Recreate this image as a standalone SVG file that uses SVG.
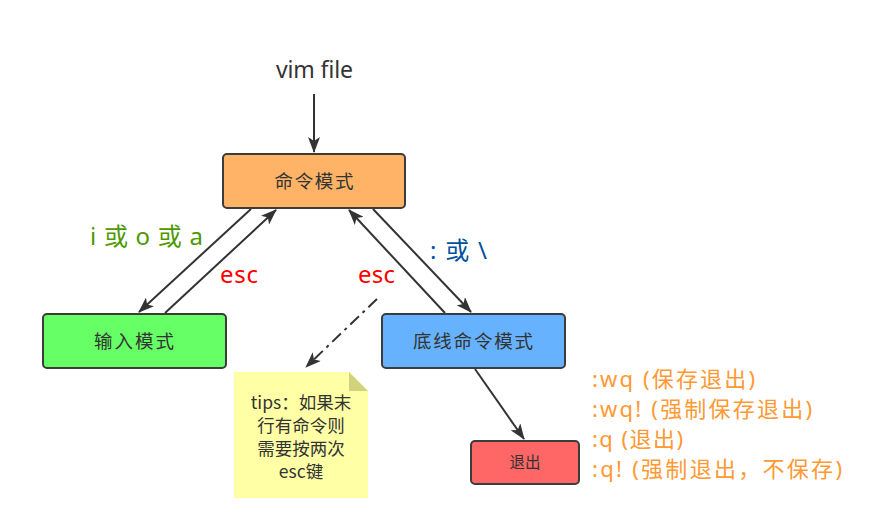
<svg xmlns="http://www.w3.org/2000/svg" width="892" height="520" viewBox="0 0 892 520">
<style>
.box{stroke:#3c3c3c;stroke-width:2}
.bt{font-family:"Noto Sans CJK SC","Noto Sans",sans-serif;font-size:18.5px;fill:#333;text-anchor:middle}
.lbl{font-family:"Noto Sans","Noto Sans CJK SC",sans-serif;font-size:24px}
.ol{font-family:"Noto Sans","Noto Sans CJK SC",sans-serif;font-size:22px;fill:#ff9933}
.con{stroke:#333;stroke-width:2;fill:none}
.tip{font-family:"Noto Sans CJK SC","Noto Sans",sans-serif;font-size:17.5px;fill:#333;text-anchor:middle}
</style>
<defs>
<marker id="arr" viewBox="0 0 16 12" refX="15" refY="6" markerWidth="16" markerHeight="12" markerUnits="userSpaceOnUse" orient="auto">
<path d="M0,0 L16,6 L0,12 L4,6 Z" fill="#333"/>
</marker>
</defs>
<rect width="892" height="520" fill="#fff"/>
<g id="connectors">
<line class="con" x1="314" y1="94" x2="314" y2="152" marker-end="url(#arr)"/>
<line class="con" x1="251" y1="209" x2="139" y2="312" marker-end="url(#arr)"/>
<line class="con" x1="165" y1="313" x2="276" y2="210" marker-end="url(#arr)"/>
<line class="con" x1="373" y1="209" x2="471" y2="312" marker-end="url(#arr)"/>
<line class="con" x1="445" y1="313" x2="349" y2="210" marker-end="url(#arr)"/>
<line class="con" x1="475" y1="369" x2="524" y2="439" marker-end="url(#arr)"/>
<line class="con" x1="377" y1="299" x2="306" y2="367" stroke-dasharray="12,5,3,5" marker-end="url(#arr)"/>
</g>
<g id="vimfile"><text x="276" y="78" class="lbl" style="font-size:23px" fill="#333" textLength="77">vim file</text></g>
<g id="cmd"><rect class="box" x="223" y="154" width="182" height="54" rx="4" fill="#ffb366"/><text class="bt" x="314" y="188" textLength="79">命令模式</text></g>
<g id="insert"><rect class="box" x="43" y="314" width="183" height="54" rx="4" fill="#66ff66"/><text class="bt" x="134" y="348" textLength="80">输入模式</text></g>
<g id="lastline"><rect class="box" x="382" y="314" width="183" height="54" rx="4" fill="#66b2ff"/><text class="bt" x="473" y="348" textLength="120">底线命令模式</text></g>
<g id="quit"><rect class="box" x="471" y="441" width="108" height="43" rx="4" fill="#ff6666"/><text class="bt" x="525" y="468" style="font-size:15.5px">退出</text></g>
<g id="tips">
<path d="M234,372 H349 L368,391 V498 H234 Z" fill="#ffffa6"/>
<path d="M349,372 L368,391 H349 Z" fill="#d2d27c"/>
<text class="tip" x="301" y="409">tips：如果末</text>
<text class="tip" x="301" y="432">行有命令则</text>
<text class="tip" x="301" y="455">需要按两次</text>
<text class="tip" x="301" y="478">esc键</text>
</g>
<g id="labels">
<text class="lbl" x="90" y="245" fill="#4d9900" textLength="113">i 或 o 或 a</text>
<text class="lbl" x="220" y="283" fill="#ff0000" textLength="38">esc</text>
<text class="lbl" x="358" y="283" fill="#ff0000" textLength="37">esc</text>
<text class="lbl" x="430" y="259" fill="#0050a0" textLength="57">: 或 \</text>
<text class="ol" x="592" y="387" textLength="163">:wq (保存退出)</text>
<text class="ol" x="592" y="417" textLength="220">:wq! (强制保存退出)</text>
<text class="ol" x="592" y="447" textLength="91">:q (退出)</text>
<text class="ol" x="592" y="477" textLength="250">:q! (强制退出，不保存)</text>
</g>
</svg>
